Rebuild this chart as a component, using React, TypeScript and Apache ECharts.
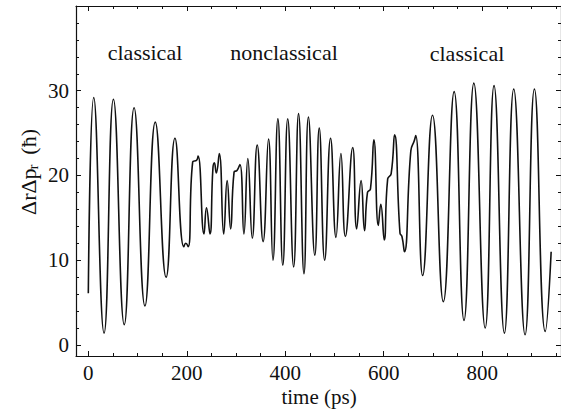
import React, { useEffect, useRef } from "react";
import * as echarts from "echarts";

const times = [0, 11, 32, 51, 73, 93, 115, 136, 158, 176, 194, 198, 203, 212, 220, 223, 235, 240, 247, 253, 256, 260, 266, 275, 282, 289, 296, 302, 308, 316, 324, 333, 343, 355, 366, 375, 385, 395, 405, 417, 427, 438, 447, 460, 469, 480, 492, 503, 513, 522, 537, 545, 554, 561, 567, 573, 580, 589, 594, 601, 608, 615, 622, 633, 637, 642, 655, 662, 665, 679, 699, 721, 743, 763, 783, 806, 824, 845, 864, 887, 906, 928, 940];
const values = [6.1, 29.2, 1.4, 29.0, 2.4, 28.0, 4.6, 26.3, 8.0, 24.4, 11.6, 12.0, 11.6, 21.6, 21.8, 22.3, 13.1, 16.2, 13.1, 20.8, 21.5, 20.3, 22.6, 13.1, 19.4, 13.7, 20.4, 20.6, 21.3, 13.1, 22.0, 12.6, 23.6, 12.2, 24.3, 10.0, 26.7, 9.4, 26.7, 9.2, 27.3, 8.4, 26.9, 10.6, 25.6, 10.0, 24.4, 12.7, 22.6, 12.8, 23.3, 13.7, 19.4, 13.5, 18.0, 18.4, 24.2, 14.1, 16.6, 12.4, 19.6, 20.2, 24.8, 13.2, 12.8, 11.0, 22.9, 24.1, 24.7, 8.2, 27.1, 5.1, 29.9, 2.9, 30.9, 2.0, 30.6, 1.4, 30.2, 1.2, 30.2, 1.6, 11.0];

const xMajor = [0, 200, 400, 600, 800];
const xMinor = [50, 100, 150, 250, 300, 350, 450, 500, 550, 650, 700, 750, 850, 900, 950];
const yMajor = [0, 10, 20, 30, 40];
const yMinor = [2, 4, 6, 8, 12, 14, 16, 18, 22, 24, 26, 28, 32, 34, 36, 38];
const yLabels = [0, 10, 20, 30];

const regionLabels = ["classical", "nonclassical", "classical"];
const xTitle = "time (ps)";

const FONT = "'Liberation Serif', 'Times New Roman', serif";
const X_MIN = -25;
const X_MAX = 960;
const Y_MIN = -1.3;
const Y_MAX = 40;

export default function App() {
  const ref = useRef<HTMLDivElement>(null);
  useEffect(() => {
    if (!ref.current) return;
    const chart = echarts.init(ref.current, undefined, { renderer: "svg" });
    const black = "#111";
    const mkX = (pos: string, ticks: number[], len: number, line: boolean, labels: boolean) => ({
      type: "value",
      position: pos,
      min: X_MIN,
      max: X_MAX,
      axisLine: { show: line, onZero: false, lineStyle: { color: black, width: 1.2 } },
      axisTick: { show: true, inside: true, length: len, customValues: ticks, lineStyle: { color: black, width: 1 } },
      axisLabel: labels
        ? { show: true, customValues: xMajor, color: black, fontSize: 21, fontFamily: FONT, margin: 6 }
        : { show: false },
      splitLine: { show: false },
    });
    const mkY = (pos: string, ticks: number[], len: number, line: boolean, labels: boolean) => ({
      type: "value",
      position: pos,
      min: Y_MIN,
      max: Y_MAX,
      axisLine: { show: line, onZero: false, lineStyle: { color: black, width: 1.2 } },
      axisTick: { show: true, inside: true, length: len, customValues: ticks, lineStyle: { color: black, width: 1 } },
      axisLabel: labels
        ? { show: true, customValues: yLabels, color: black, fontSize: 21, fontFamily: FONT, margin: 7 }
        : { show: false },
      splitLine: { show: false },
    });
    chart.setOption({
      animation: false,
      backgroundColor: "#fff",
      grid: { left: 76, right: -1, top: 6, bottom: 54, containLabel: false },
      xAxis: [
        mkX("bottom", xMajor, 5, true, true),
        mkX("bottom", xMinor, 3, false, false),
        mkX("top", xMajor, 5, true, false),
        mkX("top", xMinor, 3, false, false),
      ],
      yAxis: [
        mkY("left", yMajor, 5, true, true),
        mkY("left", yMinor, 3, false, false),
        mkY("right", yMajor, 5, true, false),
        mkY("right", yMinor, 3, false, false),
      ],
      series: [
        {
          type: "line",
          xAxisIndex: 0,
          yAxisIndex: 0,
          data: times.map((t, i) => [t, values[i]]),
          showSymbol: false,
          smooth: 0.5,
          lineStyle: { color: black, width: 1.6 },
          silent: true,
        },
      ],
      graphic: [
        { type: "text", x: 145, y: 52, style: { text: regionLabels[0], font: `22px ${FONT}`, fill: black, align: "center", verticalAlign: "middle" } },
        { type: "text", x: 284, y: 52, style: { text: regionLabels[1], font: `22px ${FONT}`, fill: black, align: "center", verticalAlign: "middle" } },
        { type: "text", x: 467, y: 53, style: { text: regionLabels[2], font: `22px ${FONT}`, fill: black, align: "center", verticalAlign: "middle" } },
        { type: "text", x: 319, y: 397, style: { text: xTitle, font: `21px ${FONT}`, fill: black, align: "center", verticalAlign: "middle" } },
        {
          type: "group",
          x: 28,
          y: 172,
          rotation: Math.PI / 2,
          children: [
            { type: "text", x: -43, y: 0, style: { text: "ΔrΔp", font: `22px ${FONT}`, fill: black, align: "left", verticalAlign: "middle" } },
            { type: "text", x: 2.5, y: 5, style: { text: "r", font: `15px ${FONT}`, fill: black, align: "left", verticalAlign: "middle" } },
            { type: "text", x: 43, y: 0, style: { text: "(ħ)", font: `22px ${FONT}`, fill: black, align: "right", verticalAlign: "middle" } },
          ],
        },
      ],
    });
    return () => chart.dispose();
  }, []);
  return <div ref={ref} style={{ position: "fixed", left: 0, top: 0, width: 561, height: 410 }} />;
}
